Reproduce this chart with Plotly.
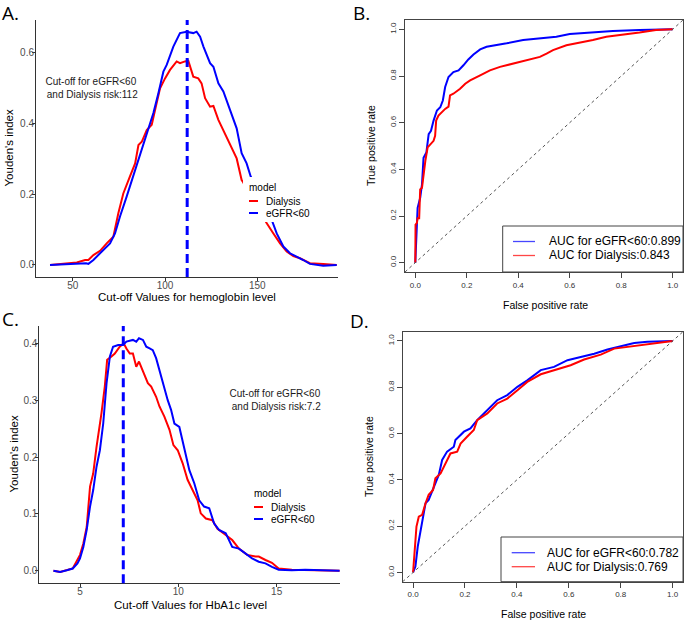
import plotly.graph_objects as go

W, H = 685, 622

# ---------------- Data ----------------
# Panel A: Youden's index vs hemoglobin cut-off
hb_egfr_x = [37.7, 52.2, 57.2, 58.5, 61.2, 64.8, 70.2, 72.9, 75.6, 79.2, 82.9, 86.5, 90.1, 93.7, 96.4, 99.1,
             100.9, 104.5, 108.1, 111.7, 115.3, 117.1, 119.0, 120.8, 124.4, 126.2, 128.9, 131.6, 135.2, 138.8,
             141.5, 144.2, 146.4, 150.0, 154.0, 157.8, 160.5, 164.1, 167.7, 171.3, 174.9, 178.5, 185.7, 193.0]
hb_egfr_y = [0.0, 0.005, 0.005, 0.003, 0.014, 0.033, 0.061, 0.089, 0.137, 0.193, 0.254, 0.316, 0.372, 0.429,
             0.485, 0.546, 0.565, 0.617, 0.655, 0.659, 0.655, 0.659, 0.645, 0.617, 0.570, 0.560, 0.513, 0.490,
             0.438, 0.386, 0.316, 0.287, 0.250, 0.210, 0.165, 0.127, 0.089, 0.052, 0.033, 0.024, 0.014, 0.003,
             -0.002, 0.0]
hb_dial_x = [37.7, 52.2, 56.7, 58.5, 61.2, 64.8, 68.4, 72.0, 74.7, 77.4, 81.0, 83.8, 85.6, 87.4, 90.1, 92.8,
             94.6, 97.3, 100.0, 102.7, 106.3, 108.1, 110.8, 112.6, 115.3, 118.0, 119.8, 121.7, 124.4, 126.2,
             128.9, 132.5, 136.1, 138.8, 141.5, 142.4, 146.0, 150.0, 155.1, 158.7, 162.3, 165.9, 169.5, 173.1,
             178.5, 185.7, 193.0]
hb_dial_y = [0.0, 0.007, 0.014, 0.014, 0.028, 0.040, 0.061, 0.080, 0.146, 0.202, 0.250, 0.287, 0.339, 0.348,
             0.381, 0.396, 0.438, 0.499, 0.527, 0.551, 0.575, 0.570, 0.575, 0.577, 0.532, 0.527, 0.513, 0.471,
             0.447, 0.449, 0.410, 0.372, 0.334, 0.301, 0.240, 0.233, 0.195, 0.160, 0.118, 0.089, 0.061, 0.038,
             0.025, 0.019, 0.005, 0.003, 0.0]
cutoff_hb = 112

# Panel B: ROC (hemoglobin)
rocB_egfr_fpr = [0, 0.004, 0.009, 0.019, 0.026, 0.032, 0.043, 0.052, 0.061, 0.071, 0.084, 0.097, 0.107, 0.116,
                 0.129, 0.148, 0.168, 0.187, 0.206, 0.226, 0.252, 0.277, 0.316, 0.355, 0.419, 0.484, 0.548,
                 0.600, 0.677, 0.768, 0.871, 0.935, 1.0]
rocB_egfr_tpr = [0, 0.12, 0.235, 0.278, 0.335, 0.45, 0.472, 0.551, 0.565, 0.609, 0.652, 0.666, 0.695, 0.753,
                 0.796, 0.817, 0.824, 0.846, 0.871, 0.892, 0.914, 0.925, 0.932, 0.94, 0.954, 0.961, 0.968,
                 0.98, 0.986, 0.993, 0.997, 0.997, 1.0]
rocB_dial_fpr = [0, 0.001, 0.006, 0.009, 0.015, 0.019, 0.026, 0.032, 0.039, 0.048, 0.058, 0.071, 0.077, 0.081,
                 0.090, 0.103, 0.116, 0.129, 0.135, 0.148, 0.174, 0.194, 0.213, 0.252, 0.290, 0.329, 0.381,
                 0.432, 0.484, 0.510, 0.535, 0.587, 0.639, 0.690, 0.742, 0.806, 0.871, 0.935, 1.0]
rocB_dial_tpr = [0, 0.163, 0.17, 0.19, 0.19, 0.314, 0.321, 0.378, 0.436, 0.494, 0.508, 0.522, 0.544, 0.609,
                 0.63, 0.645, 0.659, 0.669, 0.717, 0.724, 0.745, 0.767, 0.781, 0.803, 0.824, 0.839, 0.853,
                 0.868, 0.882, 0.896, 0.911, 0.932, 0.942, 0.954, 0.968, 0.976, 0.986, 0.997, 1.0]
aucB = {"eGFR<60": 0.899, "Dialysis": 0.843}

# Panel C: Youden's index vs HbA1c cut-off
a1c_egfr_x = [3.65, 3.99, 4.33, 4.63, 4.87, 5.0, 5.17, 5.34, 5.51, 5.67, 5.84, 6.01, 6.18, 6.35, 6.52, 6.68,
              6.94, 7.19, 7.36, 7.53, 7.69, 7.86, 8.0, 8.2, 8.37, 8.54, 8.7, 8.87, 9.04, 9.21, 9.46, 9.63, 9.8,
              10.05, 10.3, 10.56, 10.81, 11.06, 11.31, 11.57, 11.82, 12.07, 12.41, 12.74, 13.08, 13.42, 13.75,
              14.09, 14.43, 14.76, 15.1, 15.77, 16.45, 18.2]
a1c_egfr_y = [0.0, -0.002, 0.001, 0.004, 0.013, 0.022, 0.042, 0.072, 0.113, 0.142, 0.183, 0.212, 0.259, 0.330,
              0.377, 0.394, 0.397, 0.397, 0.403, 0.405, 0.406, 0.403, 0.409, 0.406, 0.394, 0.391, 0.388, 0.374,
              0.353, 0.330, 0.300, 0.283, 0.259, 0.253, 0.218, 0.177, 0.154, 0.124, 0.113, 0.110, 0.083, 0.072,
              0.066, 0.042, 0.039, 0.030, 0.022, 0.016, 0.013, 0.007, 0.002, 0.001, 0.002, 0.0]
a1c_dial_x = [3.65, 3.99, 4.63, 4.87, 5.0, 5.17, 5.34, 5.51, 5.67, 5.84, 6.01, 6.09, 6.26, 6.38, 6.6, 6.77,
              7.02, 7.22, 7.36, 7.53, 7.69, 7.86, 8.0, 8.2, 8.45, 8.62, 8.87, 9.04, 9.29, 9.55, 9.75, 9.97,
              10.22, 10.47, 10.72, 10.98, 11.14, 11.4, 11.73, 11.99, 12.41, 12.74, 13.08, 13.5, 13.92, 14.09,
              14.43, 14.76, 15.1, 15.77, 18.2]
a1c_dial_y = [0.0, -0.002, 0.004, 0.019, 0.028, 0.048, 0.077, 0.148, 0.171, 0.218, 0.253, 0.277, 0.324, 0.371,
              0.377, 0.382, 0.394, 0.400, 0.391, 0.382, 0.382, 0.359, 0.368, 0.350, 0.330, 0.324, 0.306, 0.289,
              0.271, 0.248, 0.221, 0.212, 0.189, 0.160, 0.142, 0.124, 0.101, 0.092, 0.089, 0.074, 0.063, 0.054,
              0.039, 0.028, 0.025, 0.025, 0.019, 0.014, 0.004, 0.002, 0.0]
cutoff_a1c = 7.2

# Panel D: ROC (HbA1c)
rocD_egfr_fpr = [0, 0.009, 0.018, 0.028, 0.039, 0.048, 0.06, 0.08, 0.099, 0.112, 0.131, 0.157, 0.163, 0.196,
                 0.221, 0.247, 0.286, 0.324, 0.363, 0.402, 0.44, 0.492, 0.543, 0.595, 0.646, 0.698, 0.749, 0.8,
                 0.852, 0.903, 0.955, 1.0]
rocD_egfr_tpr = [0, 0.026, 0.112, 0.17, 0.241, 0.299, 0.313, 0.371, 0.421, 0.486, 0.522, 0.543, 0.572, 0.608,
                 0.622, 0.658, 0.701, 0.744, 0.766, 0.802, 0.83, 0.874, 0.888, 0.917, 0.931, 0.945, 0.963, 0.977,
                 0.991, 0.997, 1.0, 1.0]
rocD_dial_fpr = [0, 0.005, 0.013, 0.022, 0.035, 0.048, 0.06, 0.077, 0.086, 0.106, 0.125, 0.144, 0.17, 0.183,
                 0.208, 0.234, 0.247, 0.286, 0.324, 0.363, 0.402, 0.44, 0.492, 0.543, 0.607, 0.659, 0.723, 0.775,
                 0.826, 0.903, 1.0]
rocD_dial_tpr = [0, 0.083, 0.198, 0.241, 0.249, 0.299, 0.335, 0.356, 0.407, 0.428, 0.471, 0.514, 0.522, 0.557,
                 0.586, 0.615, 0.658, 0.687, 0.73, 0.751, 0.787, 0.823, 0.856, 0.874, 0.895, 0.92, 0.941, 0.967,
                 0.974, 0.986, 1.0]
aucD = {"eGFR<60": 0.782, "Dialysis": 0.769}

roc_ticks = [0, 0.2, 0.4, 0.6, 0.8, 1.0]

RED = "#FF0000"
BLUE = "#0000FF"
SANS = "Liberation Sans, Arial, sans-serif"


def px(x, y):
    return x / W, 1 - y / H


fig = go.Figure()

# ---- traces ----
line_w = 2
fig.add_trace(go.Scatter(x=hb_dial_x, y=hb_dial_y, mode="lines", line=dict(color=RED, width=line_w),
                         xaxis="x", yaxis="y", showlegend=False))
fig.add_trace(go.Scatter(x=hb_egfr_x, y=hb_egfr_y, mode="lines", line=dict(color=BLUE, width=line_w),
                         xaxis="x", yaxis="y", showlegend=False))
fig.add_trace(go.Scatter(x=rocB_egfr_fpr, y=rocB_egfr_tpr, mode="lines", line=dict(color=BLUE, width=line_w),
                         xaxis="x2", yaxis="y2", showlegend=False))
fig.add_trace(go.Scatter(x=rocB_dial_fpr, y=rocB_dial_tpr, mode="lines", line=dict(color=RED, width=line_w),
                         xaxis="x2", yaxis="y2", showlegend=False))
fig.add_trace(go.Scatter(x=a1c_dial_x, y=a1c_dial_y, mode="lines", line=dict(color=RED, width=line_w),
                         xaxis="x3", yaxis="y3", showlegend=False))
fig.add_trace(go.Scatter(x=a1c_egfr_x, y=a1c_egfr_y, mode="lines", line=dict(color=BLUE, width=line_w),
                         xaxis="x3", yaxis="y3", showlegend=False))
fig.add_trace(go.Scatter(x=rocD_egfr_fpr, y=rocD_egfr_tpr, mode="lines", line=dict(color=BLUE, width=line_w),
                         xaxis="x4", yaxis="y4", showlegend=False))
fig.add_trace(go.Scatter(x=rocD_dial_fpr, y=rocD_dial_tpr, mode="lines", line=dict(color=RED, width=line_w),
                         xaxis="x4", yaxis="y4", showlegend=False))

# ---- axes ----
def gg_axis(domain, rng, tickvals, fmt, anchor, standoff):
    return dict(domain=domain, range=rng, tickvals=tickvals, tickformat=fmt, anchor=anchor,
                showline=True, linecolor="#333333", linewidth=1, ticks="outside", ticklen=3,
                tickcolor="#333333", tickfont=dict(size=10, color="#4D4D4D", family=SANS),
                ticklabelstandoff=standoff, showgrid=False, zeroline=False)


def r_axis(domain, anchor, angle=0):
    return dict(domain=domain, range=[-0.04, 1.04], tickvals=roc_ticks, tickformat=".1f", anchor=anchor,
                showline=True, mirror=True, linecolor="#444444", linewidth=1, ticks="outside", ticklen=5,
                tickcolor="#444444", tickfont=dict(size=8, color="#333333", family=SANS), tickangle=angle,
                showgrid=False, zeroline=False)


xA0, _ = px(36, 0); xA1, _ = px(338, 0)
_, yA0 = px(0, 277); _, yA1 = px(0, 20)
xB0, _ = px(405, 0); xB1, _ = px(683, 0)
_, yB0 = px(0, 272); _, yB1 = px(0, 20)
xC0, _ = px(39.3, 0); xC1, _ = px(340, 0)
_, yC0 = px(0, 583.3); _, yC1 = px(0, 326)
xD0, _ = px(402.7, 0); xD1, _ = px(683, 0)
_, yD0 = px(0, 581.7); _, yD1 = px(0, 331.7)

fig.update_layout(
    xaxis=gg_axis([xA0, xA1], [30.1, 193.7], [50, 100, 150], "d", "y", -4),
    yaxis=gg_axis([yA0, yA1], [-0.034, 0.692], [0, 0.2, 0.4, 0.6], ".1f", "x", -4),
    xaxis2=r_axis([xB0, xB1], "y2"),
    yaxis2=r_axis([yB0, yB1], "x2", -90),
    xaxis3=gg_axis([xC0, xC1], [2.93, 18.22], [5, 10, 15], "d", "y3", -4),
    yaxis3=gg_axis([yC0, yC1], [-0.022, 0.4305], [0, 0.1, 0.2, 0.3, 0.4], ".1f", "x3", -4),
    xaxis4=r_axis([xD0, xD1], "y4"),
    yaxis4=r_axis([yD0, yD1], "x4", -90),
)

shapes = []
annotations = []

# cut-off dashed lines
for xr, yr, c in (("x", "y domain", cutoff_hb), ("x3", "y3 domain", cutoff_a1c)):
    shapes.append(dict(type="line", xref=xr, yref=yr, x0=c, x1=c, y0=0, y1=1,
                       line=dict(color=BLUE, width=3, dash="9px,5px")))

# diagonal reference lines on ROC panels
for xr, yr in (("x2", "y2"), ("x4", "y4")):
    shapes.append(dict(type="line", xref=xr, yref=yr, x0=-0.04, y0=-0.04, x1=1.04, y1=1.04,
                       line=dict(color="#555555", width=1, dash="dot")))


def ann(text, x, y, size, color="black", family=SANS, xanchor="center", yanchor="middle", angle=0, **kw):
    px_, py_ = px(x, y)
    annotations.append(dict(text=text, x=px_, y=py_, xref="paper", yref="paper", showarrow=False,
                            font=dict(size=size, color=color, family=family), xanchor=xanchor,
                            yanchor=yanchor, textangle=angle, **kw))


def rect(x0, y0, x1, y1, fill="white", line=None):
    a, b = px(x0, y0)
    c, d = px(x1, y1)
    shapes.append(dict(type="rect", xref="paper", yref="paper", x0=a, y0=d, x1=c, y1=b, fillcolor=fill,
                       layer="above", line=line or dict(width=0)))


def seg(x0, x1, y, color, width):
    a, b = px(x0, y)
    c, _ = px(x1, y)
    shapes.append(dict(type="line", xref="paper", yref="paper", x0=a, y0=b, x1=c, y1=b, layer="above",
                       line=dict(color=color, width=width)))


# ggplot style legends (A and C)
def gg_legend(x, y_title):
    rect(x - 4, y_title - 10, x + 66, y_title + 35)
    ann("model", x, y_title, 10, xanchor="left")
    seg(x + 2, x + 11, y_title + 14, RED, 2)
    seg(x + 2, x + 11, y_title + 26, BLUE, 2)
    ann("Dialysis", x + 17, y_title + 14, 10, xanchor="left")
    ann("eGFR<60", x + 17, y_title + 26, 10, xanchor="left")


gg_legend(247, 187)
gg_legend(252, 493)


# base-R style legends (B and D)
def r_legend(x0, y0, x1, y1, yb, yr, lx0, lx1, tx, auc):
    rect(x0, y0, x1, y1, line=dict(color="#444444", width=1))
    seg(lx0, lx1, yb, "rgb(70,70,255)", 1.3)
    seg(lx0, lx1, yr, "rgb(255,70,70)", 1.3)
    ann(f"AUC for eGFR<60:{auc['eGFR<60']}", tx, yb, 12, xanchor="left")
    ann(f"AUC for Dialysis:{auc['Dialysis']}", tx, yr, 12, xanchor="left")


r_legend(502.7, 226, 683, 272, 241.5, 255.5, 513, 535, 546.5, aucB)
r_legend(501, 537, 683, 581.7, 552.7, 566.7, 511.7, 535, 545, aucD)

# axis titles
ann("Cut-off Values for hemoglobin level", 187, 297, 11.5)
ann("Youden's index", 8, 148.5, 11.5, angle=-90)
ann("Cut-off Values for HbA1c level", 190, 605, 11.5)
ann("Youden's index", 13, 454.5, 11.5, angle=-90)
ann("False positive rate", 545, 305, 10.5)
ann("True positive rate", 371, 146, 10.5, angle=-90)
ann("False positive rate", 543, 614, 10.5)
ann("True positive rate", 368.5, 456.5, 10.5, angle=-90)

# cut-off annotations (data coordinates)
annotations.append(dict(text="Cut-off for eGFR<60<br> and Dialysis risk:112", x=60, y=0.5, xref="x", yref="y",
                        showarrow=False, font=dict(size=10, color="#1a1a1a", family=SANS), align="center"))
annotations.append(dict(text="Cut-off for eGFR<60<br> and Dialysis risk:7.2", x=14.9, y=0.3, xref="x3",
                        yref="y3", showarrow=False, font=dict(size=10, color="#1a1a1a", family=SANS),
                        align="center"))

# panel letters
LBL = "Open Sans, Noto Sans, sans-serif"
ann("A.", 0, 13, 19, family=LBL, xanchor="left")
ann("B.", 351, 13, 19, family=LBL, xanchor="left")
ann("C.", 0, 319, 19, family=LBL, xanchor="left")
ann("D.", 348, 321, 19, family=LBL, xanchor="left")

fig.update_layout(width=W, height=H, margin=dict(l=0, r=0, t=0, b=0), paper_bgcolor="white",
                  plot_bgcolor="white", shapes=shapes, annotations=annotations, showlegend=False)

fig.write_html("out.html", config={"displayModeBar": False},
               post_script="document.body.style.margin='0';document.body.style.overflow='hidden';")
